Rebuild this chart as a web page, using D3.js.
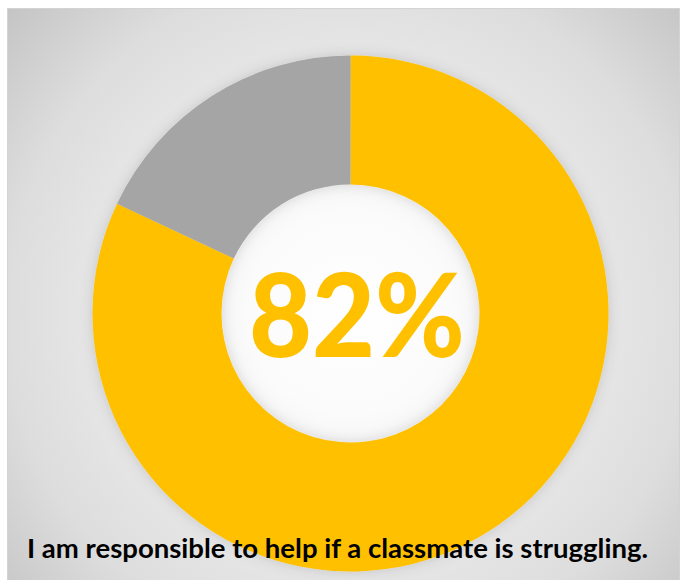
<!DOCTYPE html>
<html>
<head>
<meta charset="utf-8">
<script src="https://cdn.jsdelivr.net/npm/d3@7"></script>
<style>
  html, body { margin: 0; padding: 0; background: #ffffff; }
  svg { display: block; }
</style>
</head>
<body>
<svg id="chart" width="686" height="580"></svg>
<script>
// Survey answer split: agree vs. not
const categories = ["Agree", "Other"];
const values = [82, 18];
const colors = ["#FFC000", "#A5A5A5"];
const centerLabel = "82%";
const title = "I am responsible to help if a classmate is struggling.";

const svg = d3.select("#chart");
const cx = 350.5, cy = 313.5;
const outerR = 258, innerR = 129;

const defs = svg.append("defs");

// soft radial background: white in the middle, grey towards the corners
const bg = defs.append("radialGradient")
  .attr("id", "bgGrad")
  .attr("gradientUnits", "userSpaceOnUse")
  .attr("cx", cx).attr("cy", cy).attr("r", 460);
[[0, "#ffffff"], [0.22, "#fbfbfb"], [0.4, "#eeeeee"], [0.58, "#e5e5e5"],
 [0.75, "#dddddd"], [1, "#c4c4c4"]].forEach(([o, c]) =>
  bg.append("stop").attr("offset", o).attr("stop-color", c));

// faint halo around the ring
const shadow = defs.append("filter").attr("id", "ringShadow")
  .attr("x", "-20%").attr("y", "-20%").attr("width", "140%").attr("height", "140%");
shadow.append("feDropShadow")
  .attr("dx", 0).attr("dy", 0).attr("stdDeviation", 7)
  .attr("flood-color", "#000").attr("flood-opacity", 0.14);

// chart frame
svg.append("rect")
  .attr("x", 7.5).attr("y", 8.5)
  .attr("width", 672).attr("height", 580)
  .attr("fill", "url(#bgGrad)")
  .attr("stroke", "#d3d3d3").attr("stroke-width", 1);

const pie = d3.pie().sort(null).value(d => d.value)
  .startAngle(0).endAngle(2 * Math.PI);
const arc = d3.arc().innerRadius(innerR).outerRadius(outerR);

const data = categories.map((c, i) => ({ category: c, value: values[i], color: colors[i] }));

svg.append("g")
  .attr("transform", `translate(${cx},${cy})`)
  .attr("filter", "url(#ringShadow)")
  .selectAll("path")
  .data(pie(data))
  .join("path")
  .attr("d", arc)
  .attr("fill", d => d.data.color);

// big percentage in the hole
svg.append("text")
  .attr("x", 357).attr("y", 357)
  .attr("text-anchor", "middle")
  .attr("font-family", "Lato, 'Open Sans', sans-serif")
  .attr("font-weight", 900)
  .attr("font-size", 117)
  .attr("fill", "#FFC000")
  .attr("textLength", 216)
  .attr("lengthAdjust", "spacingAndGlyphs")
  .text(centerLabel);

// statement at the bottom
svg.append("text")
  .attr("x", 337.5).attr("y", 558)
  .attr("text-anchor", "middle")
  .attr("font-family", "Lato, 'Open Sans', sans-serif")
  .attr("font-weight", 700)
  .attr("font-size", 26.5)
  .attr("fill", "#000000")
  .attr("textLength", 621)
  .attr("lengthAdjust", "spacingAndGlyphs")
  .text(title);
</script>
</body>
</html>
